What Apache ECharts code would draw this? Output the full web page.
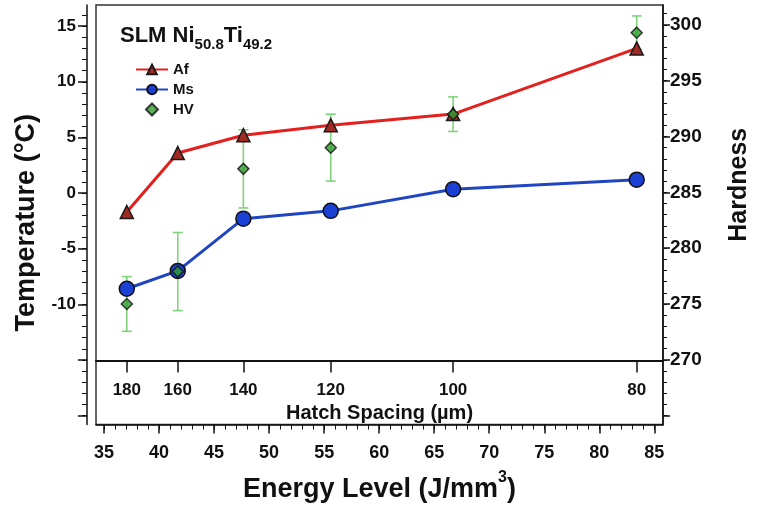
<!DOCTYPE html>
<html><head><meta charset="utf-8">
<script src="https://cdn.jsdelivr.net/npm/echarts@6/dist/echarts.min.js"></script>
<style>html,body{margin:0;padding:0;background:#fff}#c{width:760px;height:508px}</style>
</head><body><div id="c"></div>
<script>
// ---- data ----
const energy = [37.07, 41.70, 47.66, 55.60, 66.72, 83.40];   // J/mm^3
const hatch = [180, 160, 140, 120, 100, 80];                  // µm
const afTemp = [-1.7, 3.6, 5.2, 6.1, 7.1, 13.0];              // °C
const msTemp = [-8.6, -7.0, -2.3, -1.6, 0.35, 1.2];           // °C
const hvMean = [275.0, 277.9, 287.1, 289.0, 292.0, 299.3];    // hardness
const hvErr = [2.45, 3.5, 3.5, 3.0, 1.55, 1.5];
const energyTicks = [35, 40, 45, 50, 55, 60, 65, 70, 75, 80, 85];
const tempLabels = [-10, -5, 0, 5, 10, 15];
const tempMajor = [-20, -15, -10, -5, 0, 5, 10, 15];
const hardLabels = [270, 275, 280, 285, 290, 295, 300];
const hardMajor = [265, 270, 275, 280, 285, 290, 295, 300];

const range = (a, b) => { const r = []; for (let v = a; v <= b; v++) r.push(v); return r; };
const F = "'Liberation Sans', Arial, sans-serif";
const X_MIN = 34.27, X_MAX = 85.79;
const T_MIN = -20.8, T_MAX = 16.9;
const H_MIN = 264.2, H_MAX = 301.78;

const chart = echarts.init(document.getElementById('c'), null, {renderer: 'canvas'});
const axisLineStyle = {color: '#111', width: 1.5};

chart.setOption({
  animation: false,
  backgroundColor: '#fff',
  title: {
    left: 115, top: 15,
    text: '{a|SLM Ni}{s|50.8}{a|Ti}{s|49.2}',
    textStyle: {
      rich: {
        a: {fontFamily: F, fontWeight: 'bold', fontSize: 22, color: '#111', lineHeight: 32},
        s: {fontFamily: F, fontWeight: 'bold', fontSize: 15, color: '#111', lineHeight: 15, verticalAlign: 'bottom'}
      }
    }
  },
  legend: {
    orient: 'vertical', left: 130, top: 57,
    itemWidth: 32, itemHeight: 12, itemGap: 5,
    textStyle: {fontFamily: F, fontWeight: 'bold', fontSize: 15, color: '#111'},
    data: ['Af', 'Ms', {name: 'HV', icon: 'path://M0,5L5,0L10,5L5,10Z'}]
  },
  grid: {left: 96, right: 78, top: 5, bottom: 81, show: true, borderColor: '#333', borderWidth: 1.5, containLabel: false},
  xAxis: [
    { // energy main
      type: 'value', position: 'bottom', min: X_MIN, max: X_MAX,
      name: '{a|Energy Level (J/mm}{sup|3}{a|)}', nameLocation: 'middle', nameGap: 45,
      nameTextStyle: {rich: {
        a: {fontFamily: F, fontWeight: 'bold', fontSize: 27, color: '#111', lineHeight: 40},
        sup: {fontFamily: F, fontWeight: 'bold', fontSize: 16, color: '#111', lineHeight: 16, verticalAlign: 'top'}
      }},
      axisLine: {show: true, onZero: false, lineStyle: axisLineStyle},
      axisTick: {show: true, length: 9, customValues: energyTicks, lineStyle: {color: '#111', width: 1.5}},
      axisLabel: {customValues: energyTicks, margin: 20, fontFamily: F, fontWeight: 'bold', fontSize: 18, color: '#111'},
      splitLine: {show: false}
    },
    { // energy minor ticks
      type: 'value', position: 'bottom', min: X_MIN, max: X_MAX,
      axisLine: {show: false, onZero: false},
      axisTick: {show: true, length: 5, customValues: range(35, 85), lineStyle: {color: '#111', width: 1}},
      axisLabel: {show: false}, splitLine: {show: false}
    },
    { // hatch spacing
      type: 'value', position: 'bottom', offset: -64, min: X_MIN, max: X_MAX,
      name: 'Hatch Spacing (µm)', nameLocation: 'middle', nameGap: 41,
      nameTextStyle: {fontFamily: F, fontWeight: 'bold', fontSize: 20, color: '#111'},
      axisLine: {show: true, onZero: false, lineStyle: {color: '#111', width: 2}},
      axisTick: {show: true, length: 12, customValues: energy, lineStyle: {color: '#111', width: 1.5}},
      axisLabel: {customValues: energy, margin: 21, fontFamily: F, fontWeight: 'bold', fontSize: 17, color: '#111',
        formatter: v => {
          let best = 0;
          energy.forEach((e, i) => { if (Math.abs(e - v) < Math.abs(energy[best] - v)) best = i; });
          return String(hatch[best]);
        }},
      splitLine: {show: false}
    }
  ],
  yAxis: [
    { // temperature
      type: 'value', position: 'left', offset: 9, min: T_MIN, max: T_MAX,
      name: 'Temperature (°C)', nameLocation: 'middle', nameGap: 46,
      nameTextStyle: {fontFamily: F, fontWeight: 'bold', fontSize: 27, color: '#111', padding: [0, 16, 0, 0]},
      axisLine: {show: true, onZero: false, lineStyle: axisLineStyle},
      axisTick: {show: true, length: 9, customValues: tempMajor, lineStyle: {color: '#111', width: 1.5}},
      axisLabel: {customValues: tempLabels, margin: 11, fontFamily: F, fontWeight: 'bold', fontSize: 17, color: '#111'},
      splitLine: {show: false}
    },
    { // temperature minor
      type: 'value', position: 'left', offset: 9, min: T_MIN, max: T_MAX,
      axisLine: {show: false, onZero: false},
      axisTick: {show: true, length: 5, customValues: range(-20, 16), lineStyle: {color: '#111', width: 1}},
      axisLabel: {show: false}, splitLine: {show: false}
    },
    { // hardness
      type: 'value', position: 'right', min: H_MIN, max: H_MAX,
      name: 'Hardness', nameLocation: 'middle', nameGap: 64,
      nameTextStyle: {fontFamily: F, fontWeight: 'bold', fontSize: 25, color: '#111', padding: [0, 0, 0, 60]},
      axisLine: {show: true, onZero: false, lineStyle: axisLineStyle},
      axisTick: {show: true, length: 7, customValues: hardMajor, lineStyle: {color: '#111', width: 1.5}},
      axisLabel: {customValues: hardLabels, margin: 7, fontFamily: F, fontWeight: 'bold', fontSize: 19, color: '#111'},
      splitLine: {show: false}
    },
    { // hardness minor
      type: 'value', position: 'right', min: H_MIN, max: H_MAX,
      axisLine: {show: false, onZero: false},
      axisTick: {show: true, length: 4, customValues: range(265, 301), lineStyle: {color: '#111', width: 1}},
      axisLabel: {show: false}, splitLine: {show: false}
    }
  ],
  series: [
    {
      name: 'HV error', type: 'custom', xAxisIndex: 0, yAxisIndex: 2, z: 1,
      data: energy.map((e, i) => [e, hvMean[i] - hvErr[i], hvMean[i] + hvErr[i]]),
      encode: {x: 0, y: [1, 2]},
      renderItem: (params, api) => {
        const x = api.value(0);
        const pLo = api.coord([x, api.value(1)]);
        const pHi = api.coord([x, api.value(2)]);
        const w = 5;
        const st = {stroke: '#7fd47a', lineWidth: 1.6};
        return {type: 'group', children: [
          {type: 'line', shape: {x1: pHi[0], y1: pHi[1], x2: pLo[0], y2: pLo[1]}, style: st},
          {type: 'line', shape: {x1: pHi[0] - w, y1: pHi[1], x2: pHi[0] + w, y2: pHi[1]}, style: st},
          {type: 'line', shape: {x1: pLo[0] - w, y1: pLo[1], x2: pLo[0] + w, y2: pLo[1]}, style: st}
        ]};
      }
    },
    {
      name: 'Af', type: 'line', xAxisIndex: 0, yAxisIndex: 0, z: 2,
      data: energy.map((e, i) => [e, afTemp[i]]),
      symbol: 'triangle', symbolSize: 13,
      lineStyle: {color: '#e3201e', width: 3},
      itemStyle: {color: '#9e2a22', borderColor: '#1a1a1a', borderWidth: 1.5}
    },
    {
      name: 'Ms', type: 'line', xAxisIndex: 0, yAxisIndex: 0, z: 2,
      data: energy.map((e, i) => [e, msTemp[i]]),
      symbol: 'circle', symbolSize: 15,
      lineStyle: {color: '#1f45c2', width: 3},
      itemStyle: {color: '#1c3fd4', borderColor: '#111', borderWidth: 1.5}
    },
    {
      name: 'HV', type: 'scatter', xAxisIndex: 0, yAxisIndex: 2, z: 3,
      data: energy.map((e, i) => [e, hvMean[i]]),
      symbol: 'diamond', symbolSize: 11,
      itemStyle: {color: '#2f9e2f', borderColor: '#111', borderWidth: 1.5}
    }
  ]
});
</script>
</body></html>
